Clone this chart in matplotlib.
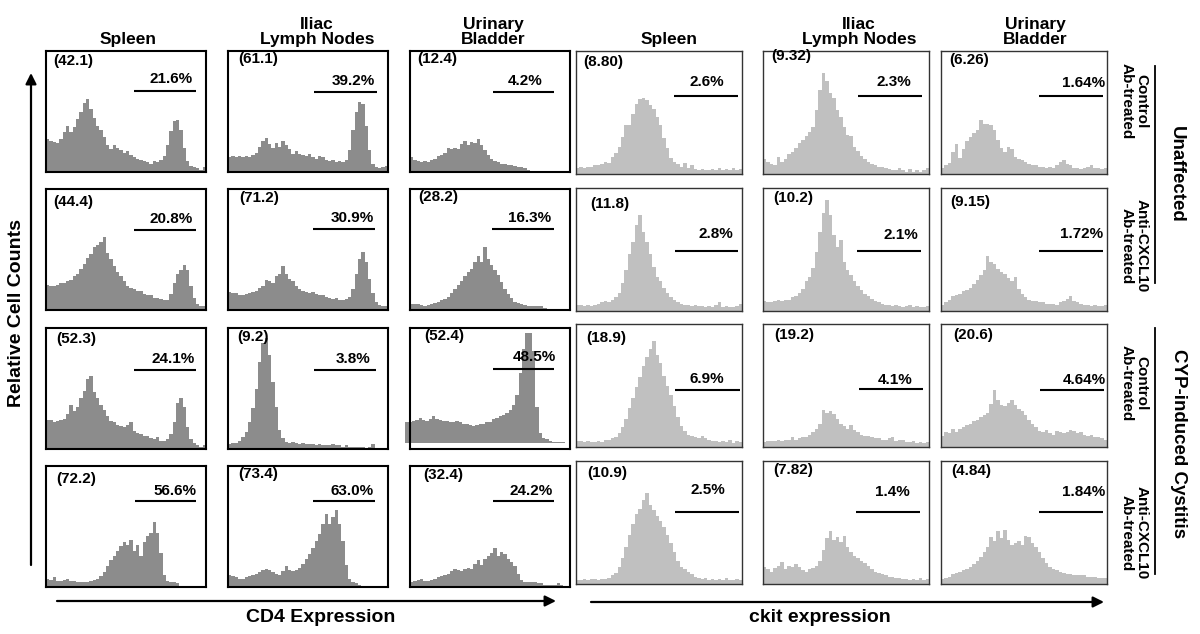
import matplotlib
matplotlib.use('Agg')
import matplotlib.pyplot as plt

plt.rcParams['font.family'] = ['Liberation Sans', 'DejaVu Sans']
plt.rcParams['font.weight'] = 'bold'

tissues = ['Spleen', 'Iliac\nLymph Nodes', 'Urinary\nBladder']
treatments = ['Control\nAb-treated', 'Anti-CXCL10\nAb-treated',
              'Control\nAb-treated', 'Anti-CXCL10\nAb-treated']
groups = ['Unaffected', 'CYP-induced Cystitis']

# histogram heights (% of panel height), 48 channels per panel
# CD4, unaffected, control Ab
cd4_u_ctrl_spleen = [27, 26, 25, 24, 27, 33, 38, 33, 37, 44, 50, 57, 60, 52, 45, 38,
                     35, 29, 22, 19, 22, 20, 18, 16, 17, 14, 12, 11, 10, 9, 8, 7,
                     9, 8, 10, 13, 22, 34, 42, 43, 35, 20, 9, 5, 4, 3, 2, 4]
cd4_u_ctrl_lymph = [12, 13, 12, 13, 12, 13, 12, 14, 16, 21, 26, 28, 23, 20, 24, 21,
                    26, 22, 19, 15, 17, 15, 14, 13, 15, 12, 11, 13, 12, 10, 9, 10,
                    8, 9, 8, 10, 18, 35, 50, 58, 56, 38, 18, 7, 4, 3, 4, 5]
cd4_u_ctrl_bladder = [12, 10, 9, 8, 9, 8, 10, 11, 13, 14, 16, 20, 19, 20, 19, 23,
                      26, 22, 25, 24, 27, 22, 18, 14, 11, 9, 8, 7, 7, 6, 6, 5,
                      4, 4, 3, 2, 1, 1, 1, 1, 1, 1, 1, 1, 1, 1, 1, 1]
# CD4, unaffected, anti-CXCL10
cd4_u_cxcl_spleen = [21, 20, 20, 21, 22, 22, 24, 25, 28, 30, 34, 38, 43, 46, 52, 54,
                     56, 60, 47, 42, 36, 31, 28, 24, 20, 18, 17, 16, 16, 13, 12, 12,
                     10, 10, 9, 8, 8, 13, 22, 30, 33, 37, 33, 20, 10, 5, 3, 3]
cd4_u_cxcl_lymph = [15, 14, 14, 12, 12, 13, 14, 15, 16, 18, 20, 25, 24, 22, 28, 30,
                    36, 30, 26, 24, 20, 17, 16, 15, 14, 15, 13, 12, 12, 11, 10, 9,
                    10, 8, 8, 9, 11, 17, 30, 42, 48, 40, 26, 14, 7, 4, 3, 3]
cd4_u_cxcl_bladder = [5, 5, 5, 4, 3, 4, 5, 6, 7, 8, 9, 11, 14, 17, 21, 24,
                      28, 31, 34, 40, 45, 40, 52, 42, 37, 33, 29, 23, 17, 13, 10, 7,
                      6, 5, 4, 3, 3, 3, 3, 3, 2, 1, 1, 1, 1, 1, 1, 1]
# CD4, cystitis, control Ab
cd4_c_ctrl_spleen = [24, 24, 22, 23, 24, 25, 29, 36, 31, 35, 42, 48, 58, 60, 47, 42,
                     36, 32, 27, 23, 22, 20, 19, 18, 20, 22, 15, 13, 12, 11, 11, 9,
                     8, 10, 7, 7, 8, 12, 22, 38, 42, 35, 18, 8, 5, 3, 2, 3]
cd4_c_ctrl_lymph = [4, 5, 5, 7, 10, 14, 22, 34, 50, 72, 88, 92, 78, 55, 35, 16,
                    9, 6, 5, 6, 5, 4, 5, 4, 4, 4, 3, 4, 3, 3, 3, 4,
                    3, 3, 2, 3, 2, 2, 2, 2, 2, 1, 2, 4, 1, 1, 1, 1]
cd4_c_ctrl_bladder = [17, 17, 18, 19, 21, 19, 18, 20, 22, 20, 19, 18, 18, 17, 17, 18,
                      17, 16, 16, 15, 14, 15, 16, 16, 17, 17, 20, 21, 22, 23, 25, 27,
                      31, 40, 58, 78, 91, 91, 76, 30, 8, 4, 3, 2, 1, 1, 1, 1]
# CD4, cystitis, anti-CXCL10
cd4_c_cxcl_spleen = [7, 6, 8, 5, 5, 6, 7, 5, 5, 4, 4, 4, 4, 5, 6, 7,
                     9, 12, 17, 22, 26, 30, 34, 37, 35, 39, 30, 35, 26, 37, 42, 45,
                     54, 45, 28, 10, 5, 4, 4, 3, 1, 1, 1, 1, 1, 1, 1, 1]
cd4_c_cxcl_lymph = [10, 9, 8, 7, 7, 8, 9, 10, 11, 12, 14, 15, 14, 12, 11, 10,
                    13, 17, 14, 13, 14, 16, 19, 23, 27, 32, 38, 44, 52, 60, 52, 58,
                    64, 52, 38, 18, 7, 4, 3, 2, 1, 1, 1, 1, 1, 1, 1, 1]
cd4_c_cxcl_bladder = [4, 5, 6, 7, 5, 5, 6, 7, 8, 9, 10, 11, 13, 15, 14, 13,
                      15, 16, 15, 19, 22, 18, 23, 26, 28, 32, 26, 29, 27, 23, 21, 17,
                      11, 6, 4, 4, 4, 4, 3, 3, 2, 2, 2, 2, 3, 2, 1, 1]

# ckit, unaffected, control Ab
kit_u_ctrl_spleen = [5, 6, 5, 6, 6, 7, 7, 8, 10, 9, 14, 17, 22, 30, 40, 40,
                     49, 57, 61, 62, 60, 56, 53, 46, 40, 29, 21, 13, 10, 8, 6, 9,
                     5, 7, 4, 3, 4, 3, 3, 4, 3, 5, 3, 4, 3, 5, 3, 4]
kit_u_ctrl_lymph = [12, 10, 8, 7, 14, 10, 12, 16, 18, 21, 25, 28, 31, 34, 38, 52,
                    68, 82, 76, 66, 62, 52, 46, 38, 32, 31, 22, 19, 15, 12, 10, 8,
                    7, 6, 6, 5, 4, 3, 3, 5, 3, 2, 4, 2, 3, 2, 3, 5]
kit_u_ctrl_bladder = [5, 7, 9, 18, 24, 13, 20, 27, 30, 33, 36, 44, 41, 41, 40, 36,
                      28, 21, 18, 22, 20, 14, 12, 11, 10, 8, 7, 7, 6, 6, 5, 6,
                      5, 7, 10, 11, 8, 7, 5, 5, 4, 5, 6, 7, 5, 5, 4, 5]
# ckit, unaffected, anti-CXCL10
kit_u_cxcl_spleen = [5, 5, 4, 5, 4, 5, 6, 7, 8, 7, 9, 11, 15, 23, 33, 46,
                     56, 70, 78, 64, 56, 46, 36, 28, 24, 19, 15, 11, 9, 7, 6, 5,
                     5, 4, 5, 4, 4, 3, 4, 3, 5, 7, 3, 4, 3, 3, 4, 6]
kit_u_cxcl_lymph = [8, 7, 7, 8, 9, 8, 9, 9, 11, 12, 15, 18, 24, 28, 35, 48,
                    64, 80, 90, 78, 62, 52, 58, 40, 33, 29, 24, 20, 17, 14, 12, 10,
                    8, 7, 6, 5, 5, 4, 5, 4, 3, 4, 5, 3, 4, 3, 3, 4]
kit_u_cxcl_bladder = [5, 7, 9, 12, 13, 14, 16, 17, 19, 22, 25, 29, 33, 45, 40, 38,
                      34, 32, 30, 27, 24, 28, 18, 14, 11, 9, 8, 8, 7, 7, 6, 6,
                      6, 5, 7, 8, 10, 12, 8, 7, 6, 5, 5, 4, 5, 4, 4, 5]
# ckit, cystitis, control Ab
kit_c_ctrl_spleen = [5, 5, 4, 5, 4, 4, 5, 4, 6, 6, 7, 8, 11, 16, 23, 32,
                     40, 49, 57, 66, 73, 80, 86, 75, 68, 58, 50, 42, 33, 24, 17, 13,
                     10, 9, 8, 7, 9, 7, 6, 5, 5, 4, 5, 4, 6, 3, 5, 4]
kit_c_ctrl_lymph = [4, 5, 5, 5, 6, 5, 6, 6, 8, 6, 7, 8, 8, 10, 12, 15,
                    19, 30, 28, 29, 27, 23, 19, 17, 15, 18, 14, 12, 10, 9, 9, 8,
                    7, 7, 6, 6, 7, 8, 5, 6, 6, 4, 4, 5, 3, 4, 3, 4]
kit_c_ctrl_bladder = [9, 12, 11, 15, 12, 15, 16, 18, 19, 21, 22, 24, 26, 28, 35, 46,
                      38, 34, 33, 36, 38, 34, 31, 29, 26, 22, 19, 16, 13, 12, 14, 11,
                      10, 13, 12, 11, 12, 14, 13, 11, 12, 10, 9, 10, 8, 8, 7, 6]
# ckit, cystitis, anti-CXCL10
kit_c_cxcl_spleen = [3, 3, 4, 3, 4, 4, 3, 4, 4, 5, 7, 9, 14, 21, 30, 40,
                     49, 57, 61, 68, 74, 64, 60, 55, 51, 46, 40, 33, 26, 19, 14, 12,
                     10, 8, 6, 5, 4, 5, 3, 4, 3, 4, 3, 5, 3, 3, 4, 3]
kit_c_cxcl_lymph = [14, 12, 10, 13, 15, 18, 12, 15, 14, 16, 14, 11, 10, 12, 13, 15,
                    19, 28, 37, 43, 36, 38, 34, 39, 30, 26, 23, 21, 19, 17, 15, 12,
                    10, 9, 8, 7, 6, 6, 5, 5, 4, 4, 3, 4, 3, 5, 3, 4]
kit_c_cxcl_bladder = [4, 5, 6, 8, 9, 10, 11, 12, 14, 16, 19, 22, 26, 30, 38, 35,
                      43, 37, 44, 36, 32, 33, 35, 32, 39, 38, 33, 30, 26, 21, 17, 14,
                      12, 11, 10, 9, 8, 8, 7, 7, 7, 7, 6, 6, 6, 5, 5, 5]

cd4_hists = [[cd4_u_ctrl_spleen, cd4_u_ctrl_lymph, cd4_u_ctrl_bladder],
             [cd4_u_cxcl_spleen, cd4_u_cxcl_lymph, cd4_u_cxcl_bladder],
             [cd4_c_ctrl_spleen, cd4_c_ctrl_lymph, cd4_c_ctrl_bladder],
             [cd4_c_cxcl_spleen, cd4_c_cxcl_lymph, cd4_c_cxcl_bladder]]
kit_hists = [[kit_u_ctrl_spleen, kit_u_ctrl_lymph, kit_u_ctrl_bladder],
             [kit_u_cxcl_spleen, kit_u_cxcl_lymph, kit_u_cxcl_bladder],
             [kit_c_ctrl_spleen, kit_c_ctrl_lymph, kit_c_ctrl_bladder],
             [kit_c_cxcl_spleen, kit_c_cxcl_lymph, kit_c_cxcl_bladder]]

# numbers printed in the panels
cd4_mfi = [['(42.1)', '(61.1)', '(12.4)'], ['(44.4)', '(71.2)', '(28.2)'],
           ['(52.3)', '(9.2)', '(52.4)'], ['(72.2)', '(73.4)', '(32.4)']]
cd4_pct = [['21.6%', '39.2%', '4.2%'], ['20.8%', '30.9%', '16.3%'],
           ['24.1%', '3.8%', '48.5%'], ['56.6%', '63.0%', '24.2%']]
kit_mfi = [['(8.80)', '(9.32)', '(6.26)'], ['(11.8)', '(10.2)', '(9.15)'],
           ['(18.9)', '(19.2)', '(20.6)'], ['(10.9)', '(7.82)', '(4.84)']]
kit_pct = [['2.6%', '2.3%', '1.64%'], ['2.8%', '2.1%', '1.72%'],
           ['6.9%', '4.1%', '4.64%'], ['2.5%', '1.4%', '1.84%']]

# gate ranges (fraction of axis)
cd4_gate = [[(0.55, 0.94), (0.54, 0.93), (0.517, 0.90)],
            [(0.55, 0.94), (0.532, 0.921), (0.513, 0.897)],
            [(0.55, 0.94), (0.538, 0.928), (0.516, 0.899)],
            [(0.554, 0.935), (0.533, 0.921), (0.517, 0.90)]]
kit_gate = [[(0.588, 0.976), (0.571, 0.957), (0.593, 0.976)],
            [(0.595, 0.976), (0.567, 0.952), (0.593, 0.976)],
            [(0.595, 0.988), (0.576, 0.964), (0.598, 0.98)],
            [(0.595, 0.98), (0.56, 0.945), (0.593, 0.976)]]

# ---- layout (pixels) ----
W, H = 1200, 634
cd4_x, cd4_w, cd4_y, cd4_h = [46, 228, 410], 160, [51, 189, 328, 466], 121
kit_x, kit_w, kit_y, kit_h = [576, 763, 941], 166, [51, 188, 324, 461], 123

# text placement inside panels: (x, y-from-top) fractions
cd4_mfi_pos = [[(0.043, 0.086), (0.065, 0.069), (0.045, 0.064)],
               [(0.048, 0.104), (0.072, 0.077), (0.053, 0.069)],
               [(0.064, 0.09), (0.058, 0.075), (0.086, 0.064)],
               [(0.064, 0.105), (0.062, 0.063), (0.081, 0.072)]]
cd4_pct_pos = [[(0.914, 0.235), (0.916, 0.249), (0.83, 0.249)],
               [(0.92, 0.249), (0.911, 0.242), (0.88, 0.242)],
               [(0.93, 0.26), (0.89, 0.255), (0.91, 0.236)],
               [(0.94, 0.209), (0.91, 0.209), (0.89, 0.209)]]
cd4_gate_y = [[0.332, 0.337, 0.337], [0.336, 0.33, 0.33],
              [0.35, 0.347, 0.339], [0.292, 0.292, 0.292]]
kit_mfi_pos = [[(0.043, 0.088), (0.052, 0.043), (0.05, 0.07)],
               [(0.083, 0.133), (0.064, 0.08), (0.054, 0.11)],
               [(0.06, 0.114), (0.067, 0.086), (0.071, 0.09)],
               [(0.067, 0.097), (0.06, 0.07), (0.059, 0.081)]]
kit_pct_pos = [[(0.893, 0.255), (0.893, 0.255), (0.988, 0.263)],
               [(0.948, 0.373), (0.933, 0.383), (0.976, 0.378)],
               [(0.893, 0.451), (0.90, 0.454), (0.995, 0.454)],
               [(0.898, 0.238), (0.886, 0.251), (0.988, 0.251)]]
kit_gate_y = [[0.362, 0.362, 0.362], [0.512, 0.509, 0.509],
              [0.54, 0.532, 0.538], [0.414, 0.414, 0.414]]


def panel(fig, x, y, w, h, hist, color, edge, lw, mfi, pct, mpos, ppos, gate, gy,
          dx=0.0, base=0.0):
    ax = fig.add_axes([x / W, 1 - (y + h) / H, w / W, h / H])
    n = len(hist)
    ax.bar([i + dx for i in range(n)], hist, width=1.0, bottom=base, align='edge',
           color=color, linewidth=0, clip_on=False)
    ax.set_xlim(0, n)
    ax.set_ylim(0, 100)
    ax.set_xticks([])
    ax.set_yticks([])
    for s in ax.spines.values():
        s.set_color(edge)
        s.set_linewidth(lw)
    ax.text(mpos[0], 1 - mpos[1], mfi, transform=ax.transAxes, ha='left', va='center',
            fontsize=11, fontweight='bold')
    ax.text(ppos[0], 1 - ppos[1], pct, transform=ax.transAxes, ha='right', va='center',
            fontsize=11, fontweight='bold')
    ax.plot(gate, [1 - gy, 1 - gy], transform=ax.transAxes, color='black', lw=1.5,
            solid_capstyle='butt')
    return ax


fig = plt.figure(figsize=(W / 100, H / 100), dpi=100)

for r in range(4):
    for c in range(3):
        dx, base = 0.0, 0.0
        if r == 2 and c == 2:
            dx, base = -1.38, 5
        panel(fig, cd4_x[c], cd4_y[r], cd4_w, cd4_h, cd4_hists[r][c], '#8c8c8c', 'black', 1.5,
              cd4_mfi[r][c], cd4_pct[r][c], cd4_mfi_pos[r][c], cd4_pct_pos[r][c],
              cd4_gate[r][c], cd4_gate_y[r][c], dx, base)
        panel(fig, kit_x[c], kit_y[r], kit_w, kit_h, kit_hists[r][c], '#c0c0c0', '#333333', 1.0,
              kit_mfi[r][c], kit_pct[r][c], kit_mfi_pos[r][c], kit_pct_pos[r][c],
              kit_gate[r][c], kit_gate_y[r][c])

# overlay for the figure-level text and arrows, in pixel coords
ov = fig.add_axes([0, 0, 1, 1])
ov.set_xlim(0, W)
ov.set_ylim(H, 0)
ov.axis('off')

head_x = [128, 317, 493, 669, 859, 1035]
for i, hx in enumerate(head_x):
    ov.text(hx, 47, tissues[i % 3], ha='center', va='bottom', fontsize=12.5,
            fontweight='bold', linespacing=1.0)

row_cy = [101, 246, 383, 533]
for r, cy in enumerate(row_cy):
    ov.text(1134, cy, treatments[r], rotation=270, ha='center', va='center',
            fontsize=11, fontweight='bold', linespacing=1.1)
ov.plot([1155, 1155], [66, 283], color='black', lw=1.3)
ov.plot([1155, 1155], [328, 574], color='black', lw=1.3)
ov.text(1176, 174, groups[0], rotation=270, ha='center', va='center', fontsize=13.5,
        fontweight='bold')
ov.text(1178, 444, groups[1], rotation=270, ha='center', va='center', fontsize=13.5,
        fontweight='bold')

arrow = dict(arrowstyle='-|>', lw=1.6, color='black', mutation_scale=16,
             shrinkA=0, shrinkB=0)
ov.annotate('', xy=(31, 73), xytext=(31, 565), arrowprops=arrow)
ov.annotate('', xy=(556, 601), xytext=(57, 601), arrowprops=arrow)
ov.annotate('', xy=(1104, 602), xytext=(591, 602), arrowprops=arrow)

ov.text(17, 313, 'Relative Cell Counts', rotation=90, ha='center', va='center',
        fontsize=14, fontweight='bold')
ov.text(321, 617, 'CD4 Expression', ha='center', va='center', fontsize=14,
        fontweight='bold')
ov.text(820, 618, 'ckit expression', ha='center', va='center', fontsize=14,
        fontweight='bold')

fig.savefig('out.png', dpi=100)
